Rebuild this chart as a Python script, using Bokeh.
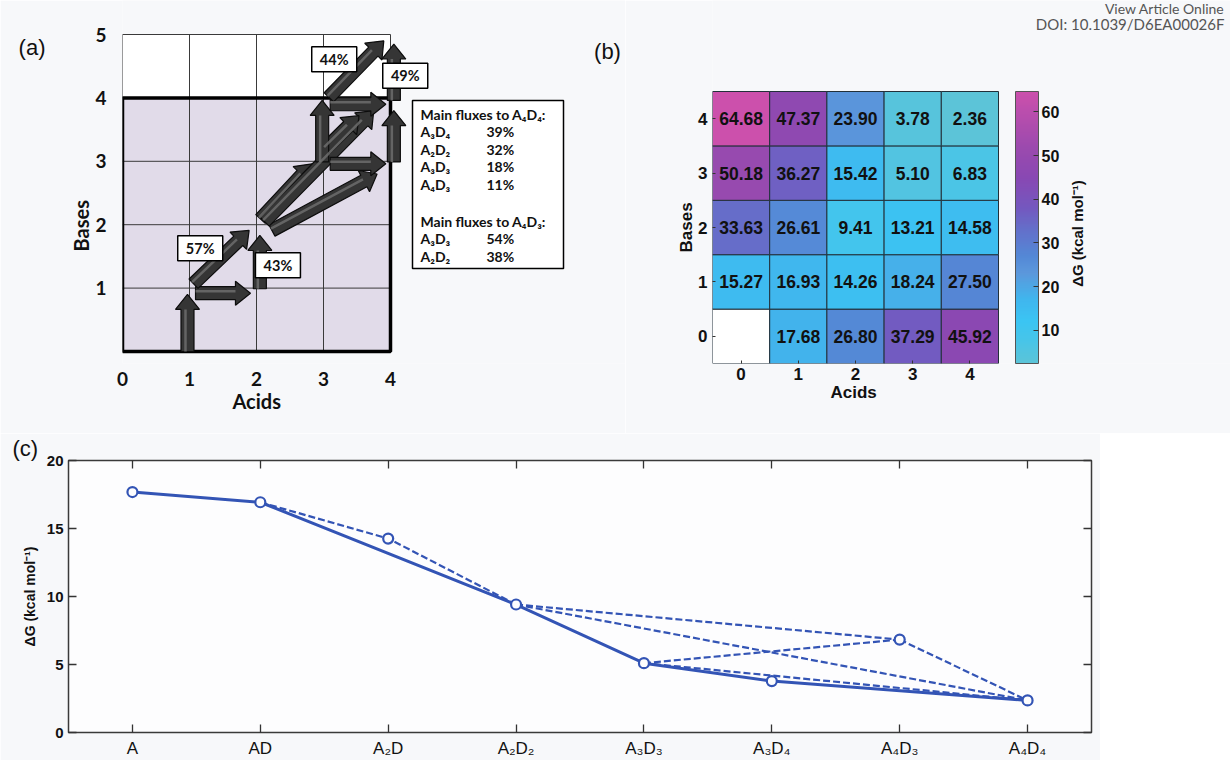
import math
import numpy as np
from bokeh.plotting import figure
from bokeh.models import (ColumnDataSource, FixedTicker, Label, LinearAxis, Title,
                          LinearColorMapper, ColorBar, Range1d)
from bokeh.layouts import column, row
from bokeh.transform import transform
from bokeh.core.properties import value
from bokeh.embed import file_html
from bokeh.resources import INLINE

# ------------------------------------------------------------------ data
acids = [0, 1, 2, 3, 4]
bases = [0, 1, 2, 3, 4]
# dG[bases][acids] in kcal/mol ; A0D0 has no value
dG = [
    [None, 17.68, 26.80, 37.29, 45.92],
    [15.27, 16.93, 14.26, 18.24, 27.50],
    [33.63, 26.61, 9.41, 13.21, 14.58],
    [50.18, 36.27, 15.42, 5.10, 6.83],
    [64.68, 47.37, 23.90, 3.78, 2.36],
]
cbar_ticks = [10, 20, 30, 40, 50, 60]

# panel (a): state grid and flux arrows (acids, bases)
a_acid_lines = [0, 1, 2, 3, 4]
a_base_lines = [0, 1, 2, 3, 4, 5]
a_ticks_x = [0, 1, 2, 3, 4]
a_ticks_y = [1, 2, 3, 4, 5]
arrow_x0 = [0.97, 1.09, 1.06, 2.05, 2.06, 2.23, 2.12, 3.03, 2.98, 3.10, 3.10, 4.05, 4.05, 3.08]
arrow_y0 = [0.00, 0.92, 1.07, 0.99, 2.09, 1.91, 2.05, 3.20, 2.99, 2.96, 3.90, 2.99, 3.96, 4.01]
arrow_x1 = [0.97, 1.91, 1.89, 2.05, 2.83, 3.80, 3.75, 3.53, 2.98, 3.93, 3.93, 4.05, 4.05, 3.90]
arrow_y1 = [0.90, 0.92, 1.91, 1.83, 2.96, 2.80, 3.80, 3.72, 3.96, 2.96, 3.90, 3.80, 4.85, 4.90]
flux_pct = ["57%", "43%", "44%", "49%"]
flux_pct_x = [1.16, 2.32, 3.16, 4.22]
flux_pct_y = [1.63, 1.36, 4.61, 4.35]
to_A4D4_title = "Main fluxes to A\u2084D\u2084:"
to_A4D4_src = ["A\u2083D\u2084", "A\u2082D\u2082", "A\u2083D\u2083", "A\u2084D\u2083"]
to_A4D4_pct = ["39%", "32%", "18%", "11%"]
to_A4D3_title = "Main fluxes to A\u2084D\u2083:"
to_A4D3_src = ["A\u2083D\u2083", "A\u2082D\u2082"]
to_A4D3_pct = ["54%", "38%"]

# panel (c): reaction path
path_labels = ["A", "AD", "A\u2082D", "A\u2082D\u2082", "A\u2083D\u2083",
               "A\u2083D\u2084", "A\u2084D\u2083", "A\u2084D\u2084"]
path_dG = [17.68, 16.93, 14.26, 9.41, 5.10, 3.78, 6.83, 2.36]
main_path = ["A", "AD", "A\u2082D\u2082", "A\u2083D\u2083", "A\u2083D\u2084", "A\u2084D\u2084"]
side_paths = [
    ["AD", "A\u2082D", "A\u2082D\u2082"],
    ["A\u2082D\u2082", "A\u2084D\u2083"],
    ["A\u2082D\u2082", "A\u2084D\u2084"],
    ["A\u2083D\u2083", "A\u2084D\u2083"],
    ["A\u2083D\u2083", "A\u2084D\u2084"],
    ["A\u2084D\u2083", "A\u2084D\u2084"],
]
c_yticks = [0, 5, 10, 15, 20]

# ------------------------------------------------------------------ style
BG = "#f7f8fa"
BLUE = "#3354b5"
FA = "Lato"
FB = "Liberation Sans"
TOP_H = 433          # height of the top row
FR_BOTTOM = 363      # shared frame bottom of panels (a) and (b)

# ================================================================== (a)
A_LEFT, A_BOTTOM = 122.0, 351.0       # page px of data origin
A_SX, A_SY = 67.0, 63.4               # px per unit
A_RIGHT = 625


def a_xy(px, py):
    return (px - A_LEFT) / A_SX, (A_BOTTOM - py) / A_SY


pa = figure(frame_width=int(A_RIGHT - A_LEFT), frame_height=FR_BOTTOM,
            x_range=Range1d(0, (A_RIGHT - A_LEFT) / A_SX),
            y_range=Range1d(a_xy(0, FR_BOTTOM)[1], a_xy(0, 0)[1]),
            min_border_left=int(A_LEFT), min_border_right=0, min_border_top=0,
            min_border_bottom=TOP_H - FR_BOTTOM, toolbar_location=None,
            output_backend="svg", background_fill_color=BG, border_fill_color=BG,
            outline_line_color=None)
pa.xgrid.visible = False
pa.ygrid.visible = False
for ax, tk, sd in ((pa.xaxis, a_ticks_x, 2), (pa.yaxis, a_ticks_y, 10)):
    ax.ticker = FixedTicker(ticks=tk)
    ax.axis_line_color = None
    ax.major_tick_line_color = None
    ax.minor_tick_line_color = None
    ax.major_label_text_font = FA
    ax.major_label_text_font_style = "bold"
    ax.major_label_text_font_size = "19px"
    ax.major_label_text_color = "#111111"
    ax.major_label_standoff = sd

pa.add_layout(Title(text="Acids", align="left", offset=110, standoff=0,
                    vertical_align="top", text_font=FA, text_font_style="bold",
                    text_font_size="20px", text_color="#111111"), "below")
pa.add_layout(Title(text="Bases", align="left", offset=112, standoff=0,
                    text_font=FA, text_font_style="bold",
                    text_font_size="20px", text_color="#111111"), "left")
ya = a_xy(0, 47)[1]
pa.add_layout(LinearAxis(ticker=FixedTicker(ticks=[ya]), major_label_overrides={ya: "(a)"},
                         major_tick_line_color=None, minor_tick_line_color=None,
                         axis_line_color=None, major_label_standoff=15,
                         major_label_text_font=FB, major_label_text_font_size="22px",
                         major_label_text_color="#111111"), "left")

amax, bmax = max(a_acid_lines), max(a_base_lines)
pa.quad(left=0, right=amax, bottom=0, top=max(bases), fill_color="#e1dbe9", line_color=None)
pa.quad(left=0, right=amax, bottom=max(bases), top=bmax, fill_color="#ffffff", line_color=None)
pa.segment(x0=a_acid_lines, y0=[0] * len(a_acid_lines), x1=a_acid_lines,
           y1=[bmax] * len(a_acid_lines), line_color="#3a3a3a", line_width=1)
pa.segment(x0=[0] * len(a_base_lines), y0=a_base_lines, x1=[amax] * len(a_base_lines),
           y1=a_base_lines, line_color="#3a3a3a", line_width=1)
pa.quad(left=0, right=amax, bottom=0, top=max(bases), fill_color=None,
        line_color="#000000", line_width=3.5)

# block arrows (built in pixel space so they keep their shape)
xs, ys, hx0, hy0, hx1, hy1 = [], [], [], [], [], []
W, HW, HL = 6.5, 12.0, 15.0
for x0, y0, x1, y1 in zip(arrow_x0, arrow_y0, arrow_x1, arrow_y1):
    X0, Y0, X1, Y1 = x0 * A_SX, y0 * A_SY, x1 * A_SX, y1 * A_SY
    L = math.hypot(X1 - X0, Y1 - Y0)
    ux, uy = (X1 - X0) / L, (Y1 - Y0) / L
    nx, ny = -uy, ux
    bx, by = X1 - ux * HL, Y1 - uy * HL
    pts = [(X0 + nx * W, Y0 + ny * W), (bx + nx * W, by + ny * W),
           (bx + nx * HW, by + ny * HW), (X1, Y1),
           (bx - nx * HW, by - ny * HW), (bx - nx * W, by - ny * W),
           (X0 - nx * W, Y0 - ny * W)]
    xs.append([p[0] / A_SX for p in pts])
    ys.append([p[1] / A_SY for p in pts])
    hx0.append((X0 + nx * 2) / A_SX); hy0.append((Y0 + ny * 2) / A_SY)
    hx1.append((bx + nx * 2) / A_SX); hy1.append((by + ny * 2) / A_SY)
pa.patches(xs=xs, ys=ys, fill_color="#353535", line_color="#0d0d0d", line_width=1.2)
pa.segment(x0=hx0, y0=hy0, x1=hx1, y1=hy1, line_color="#707070", line_width=2.5, line_alpha=0.8)

pa.rect(x=flux_pct_x, y=flux_pct_y, width=45 / A_SX, height=25 / A_SY,
        fill_color="#ffffff", line_color="#000000", line_width=1.5)
pa.text(x=flux_pct_x, y=flux_pct_y, text=flux_pct, text_font=value(FA),
        text_font_style="bold", text_font_size="14.5px", text_align="center",
        text_baseline="middle", text_color="#111111")

# flux summary box
bx0, by0 = a_xy(412, 100)
bx1, by1 = a_xy(563, 268)
pa.quad(left=bx0, right=bx1, top=by0, bottom=by1, fill_color="#ffffff",
        line_color="#000000", line_width=1.5)
lx = a_xy(420, 0)[0]
px_ = a_xy(486, 0)[0]
rows_t, rows_x, rows_y = [], [], []
for top_px, title, srcs, pcts in ((114, to_A4D4_title, to_A4D4_src, to_A4D4_pct),
                                  (221, to_A4D3_title, to_A4D3_src, to_A4D3_pct)):
    rows_t.append(title); rows_x.append(lx); rows_y.append(a_xy(0, top_px)[1])
    for i, (s, pc) in enumerate(zip(srcs, pcts)):
        yy = a_xy(0, top_px + (i + 1) * 17.4)[1]
        rows_t += [s, pc]; rows_x += [lx, px_]; rows_y += [yy, yy]
pa.text(x=rows_x, y=rows_y, text=rows_t, text_font=value(FA), text_font_style="bold",
        text_font_size="14px", text_align="left", text_baseline="middle",
        text_color="#111111")

# panel label (b) sits in this frame's area
lbx, lby = a_xy(607, 51)
pa.add_layout(Label(x=lbx, y=lby, text="(b)", text_font=FB, text_font_size="22px",
                    text_align="center", text_baseline="middle", text_color="#111111"))

# ================================================================== (b)
B_LEFT, B_SX, B_SY = 712.0, 57.2, 54.4
B_RIGHT = 1230


def b_xy(px, py):
    return (px - B_LEFT) / B_SX - 0.5, (FR_BOTTOM - py) / B_SY - 0.5


pal_anchor_v = [2.36, 8, 12, 17, 23, 27, 33, 38, 45, 52, 64.68]
pal_anchor_c = ["#5cc4d8", "#46c5ea", "#3bc5f3", "#40b6ee", "#5c98dc", "#5488d6",
                "#6470ca", "#7458bf", "#8948b3", "#9c4aae", "#cc50ac"]
lo, hi = 2.36, 64.68
rgb = np.array([[int(c[i:i + 2], 16) for i in (1, 3, 5)] for c in pal_anchor_c], float)
vv = np.linspace(lo, hi, 256)
palette = ["#%02x%02x%02x" % tuple(int(round(np.interp(v, pal_anchor_v, rgb[:, k])))
                                   for k in range(3)) for v in vv]
mapper = LinearColorMapper(palette=palette, low=lo, high=hi, nan_color="#ffffff")

hxs, hys, hvs, hts = [], [], [], []
for b in bases:
    for a in acids:
        v = dG[b][a]
        hxs.append(a); hys.append(b)
        hvs.append(np.nan if v is None else v)
        hts.append("" if v is None else "%.2f" % v)
src = ColumnDataSource(dict(x=hxs, y=hys, v=np.array(hvs, dtype=float), t=hts))

pb = figure(frame_width=int(B_RIGHT - B_LEFT), frame_height=FR_BOTTOM,
            x_range=Range1d(-0.5, b_xy(B_RIGHT, 0)[0]),
            y_range=Range1d(-0.5, b_xy(0, 0)[1]),
            min_border_left=int(B_LEFT - A_RIGHT), min_border_right=0, min_border_top=0,
            min_border_bottom=TOP_H - FR_BOTTOM, toolbar_location=None,
            output_backend="svg", background_fill_color=BG,
            border_fill_color=BG, outline_line_color=None)
pb.xgrid.visible = False
pb.ygrid.visible = False
pb.rect(x="x", y="y", width=1, height=1, source=src,
        fill_color=transform("v", mapper), line_color="#22303a", line_width=1)
pb.text(x="x", y="y", text="t", source=src, text_font=value(FB), text_font_style="bold",
        text_font_size="17.5px", text_align="center", text_baseline="middle",
        text_color="#111111")
for ax, tk, sd in ((pb.xaxis, acids, 4), (pb.yaxis, bases, 5)):
    ax.ticker = FixedTicker(ticks=tk)
    ax.axis_line_color = None
    ax.major_tick_in = 3
    ax.major_tick_out = 0
    ax.major_tick_line_color = "#333333"
    ax.minor_tick_line_color = None
    ax.major_label_text_font = FB
    ax.major_label_text_font_style = "bold"
    ax.major_label_text_font_size = "17px"
    ax.major_label_text_color = "#111111"
    ax.major_label_standoff = sd
pb.add_layout(Title(text="Acids", align="left", offset=118, standoff=0,
                    vertical_align="top", text_font=FB, text_font_style="bold",
                    text_font_size="17px", text_color="#111111"), "below")
pb.add_layout(Title(text="Bases", align="left", offset=111, standoff=0,
                    text_font=FB, text_font_style="bold",
                    text_font_size="17px", text_color="#111111"), "left")

cb = ColorBar(color_mapper=mapper, ticker=FixedTicker(ticks=cbar_ticks), width=23,
              height=272, margin=0, padding=0, location=(1015 - B_LEFT, 0),
              major_label_text_font=FB, major_label_text_font_style="bold",
              major_label_text_font_size="16px", major_label_text_color="#111111",
              major_tick_line_color="#333333", major_tick_in=5, major_tick_out=0,
              bar_line_color="#555555", background_fill_alpha=0, label_standoff=3,
              border_line_color=None)
pb.add_layout(cb)

for txt, (px, py), size, font, style, ang, al, col in [
        ("\u0394G (kcal mol\u207b\u00b9)", (1077, 233), "15px", FB, "bold", math.pi / 2, "center", "#111111"),
        ("View Article Online", (1224, 8), "14px", "Lato", "normal", 0, "right", "#555555"),
        ("DOI: 10.1039/D6EA00026F", (1224, 23), "15px", "Lato", "normal", 0, "right", "#555555")]:
    x, y = b_xy(px, py)
    pb.add_layout(Label(x=x, y=y, text=txt, text_font=font, text_font_size=size,
                        text_font_style=style, text_align=al, text_baseline="middle",
                        angle=ang, text_color=col))

# ================================================================== (c)
pc = figure(frame_width=1023, frame_height=272, x_range=Range1d(-0.5, 7.5),
            y_range=Range1d(0, 20), min_border_left=68, min_border_right=9,
            min_border_top=24, min_border_bottom=10, toolbar_location=None,
            output_backend="svg", background_fill_color="#fdfdfe",
            border_fill_color=BG, outline_line_color="#3a3a3a", outline_line_width=1.5)
pc.xgrid.visible = False
pc.ygrid.visible = False
idx = {lab: i for i, lab in enumerate(path_labels)}
for sp in side_paths:
    pc.line([idx[l] for l in sp], [path_dG[idx[l]] for l in sp], line_color=BLUE,
            line_width=2.2, line_dash="7 3")
pc.line([idx[l] for l in main_path], [path_dG[idx[l]] for l in main_path],
        line_color=BLUE, line_width=3)
pc.scatter(list(range(len(path_labels))), path_dG, marker="circle", size=10,
           fill_color="#fdfdfe", line_color=BLUE, line_width=2.2)

pc.xaxis.ticker = FixedTicker(ticks=list(range(len(path_labels))))
pc.xaxis.major_label_overrides = {i: lab for i, lab in enumerate(path_labels)}
pc.yaxis.ticker = FixedTicker(ticks=c_yticks)
for ax in (pc.xaxis, pc.yaxis):
    ax.axis_line_color = None
    ax.major_tick_in = 8
    ax.major_tick_out = 0
    ax.major_tick_line_color = "#333333"
    ax.major_tick_line_width = 1.3
    ax.minor_tick_line_color = None
    ax.major_label_text_font = FB
    ax.major_label_text_color = "#111111"
pc.xaxis.major_label_text_font_size = "17px"
pc.xaxis.major_label_standoff = 6
pc.yaxis.major_label_text_font_size = "15px"
pc.yaxis.major_label_text_font_style = "bold"
pc.yaxis.major_label_standoff = 5
pc.yaxis.axis_label = "\u0394G (kcal mol\u207b\u00b9)"
pc.yaxis.axis_label_text_font = FB
pc.yaxis.axis_label_text_font_style = "bold"
pc.yaxis.axis_label_text_font_size = "14px"
pc.yaxis.axis_label_text_color = "#111111"
pc.yaxis.axis_label_standoff = 6

for side, tk in (("above", list(range(len(path_labels)))), ("right", c_yticks)):
    pc.add_layout(LinearAxis(ticker=FixedTicker(ticks=tk),
                             major_label_text_font_size="1px", major_label_text_color=None,
                             major_tick_in=8, major_tick_out=0,
                             major_tick_line_color="#333333", major_tick_line_width=1.3,
                             minor_tick_line_color=None, axis_line_color=None,
                             major_label_standoff=0), side)
pc.add_layout(Title(text="(c)", align="left", offset=-56, standoff=0,
                    text_font=FB, text_font_style="normal", text_font_size="22px",
                    text_color="#111111"), "above")

layout = column(row(pa, pb), pc)
open("out.html", "w").write(file_html(layout, INLINE))
